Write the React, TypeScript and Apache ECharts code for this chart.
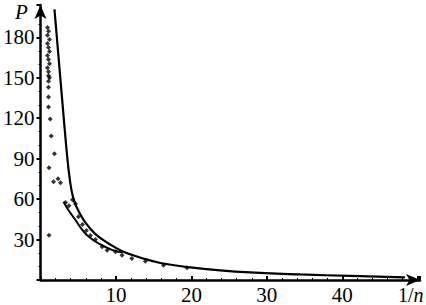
import React, { useEffect, useRef } from "react";
import * as echarts from "echarts";

// main fitted curve (1/n, P)
const curveX = [1.85, 2.38, 2.91, 3.44, 3.77, 4.11, 4.5, 5.03, 5.96, 7.28, 9.01, 10.9, 13.6, 15.9, 19.9, 23.8, 27.8, 34.4, 41.1, 48.3];
const curveP = [200.7, 166.1, 131.3, 97.3, 79.5, 66.5, 58.0, 51.4, 42.5, 34.0, 27.1, 21.2, 16.0, 12.6, 9.3, 7.1, 5.6, 4.1, 3.0, 1.9];

// lower secondary line
const lowerX = [3.05, 3.71, 4.64, 5.56, 6.36, 7.68, 9.54, 10.86];
const lowerP = [58.1, 51.8, 44.4, 37.0, 32.2, 27.1, 22.2, 20.4];

// measured points
const dotX = [0.93, 1.06, 0.93, 1.19, 0.93, 1.06, 1.19, 0.93, 1.06, 1.19, 0.93, 1.06, 1.06, 1.19,
  1.06, 1.06, 1.06, 1.06, 1.28, 1.42, 1.85, 1.13, 1.72, 2.32, 2.65, 3.31, 3.77, 4.24, 4.64, 1.13,
  5.03, 5.56, 6.09, 6.62, 7.28, 8.17, 8.83, 9.93, 10.8, 12.1, 13.9, 16.3, 19.4];
const dotP = [187.4, 184.5, 181.5, 178.5, 175.5, 172.5, 169.5, 166.5, 163.5, 160.5, 157.5, 154.5, 151.5, 150.0,
  147.5, 143.0, 135.7, 128.3, 119.4, 106.9, 93.6, 83.2, 72.8, 75.1, 72.1, 57.4, 55.1, 59.6, 56.6, 33.2,
  47.0, 41.1, 36.7, 33.0, 30.0, 24.6, 22.1, 20.9, 18.4, 16.0, 14.0, 11.0, 9.1];

const xTicks = [10, 20, 30, 40];
const yTicks = [30, 60, 90, 120, 150, 180];

const FONT = "Liberation Serif";

export default function App() {
  const ref = useRef<HTMLDivElement>(null);
  useEffect(() => {
    const chart = echarts.init(ref.current!, null, { renderer: "svg" });
    const axisLine = {
      show: true,
      symbol: ["none", "arrow"],
      symbolSize: [9, 14],
      lineStyle: { color: "#000", width: 2.5 },
    };
    chart.setOption({
      animation: false,
      backgroundColor: "#fff",
      grid: { left: 40, right: 6, top: 5, bottom: 23.4, containLabel: false },
      xAxis: {
        type: "value",
        min: 0,
        max: 50.3,
        interval: 10,
        axisLine,
        axisTick: { show: true, inside: true, length: 4, lineStyle: { color: "#000", width: 2 } },
        minorTick: { show: true, splitNumber: 5, length: 2, lineStyle: { color: "#000", width: 1 } },
        splitLine: { show: false },
        axisLabel: {
          color: "#000",
          fontFamily: FONT,
          fontSize: 21,
          margin: 4,
          formatter: (v: number) => (xTicks.includes(v) ? String(v) : ""),
        },
      },
      yAxis: {
        type: "value",
        min: 0,
        max: 204,
        interval: 30,
        axisLine,
        axisTick: { show: true, inside: false, length: 4, lineStyle: { color: "#000", width: 2 } },
        minorTick: { show: true, splitNumber: 3, length: 2, lineStyle: { color: "#000", width: 1 } },
        splitLine: { show: false },
        axisLabel: {
          color: "#000",
          fontFamily: FONT,
          fontSize: 21,
          margin: 6,
          formatter: (v: number) => (yTicks.includes(v) ? String(v) : ""),
        },
      },
      series: [
        {
          type: "line",
          data: curveX.map((x, i) => [x, curveP[i]]),
          smooth: 0.4,
          showSymbol: false,
          lineStyle: { color: "#000", width: 2.2 },
          z: 3,
        },
        {
          type: "line",
          data: lowerX.map((x, i) => [x, lowerP[i]]),
          smooth: 0.3,
          showSymbol: false,
          lineStyle: { color: "#000", width: 2 },
          z: 3,
        },
        {
          type: "scatter",
          data: dotX.map((x, i) => [x, dotP[i]]),
          symbol: "diamond",
          symbolSize: 5,
          itemStyle: { color: "#000" },
          z: 4,
        },
      ],
      graphic: [
        {
          type: "text",
          left: 15,
          top: 1,
          style: { text: "P", font: `italic 21px ${FONT}`, fill: "#000" },
        },
        {
          type: "text",
          left: 398,
          top: 285,
          style: {
            text: "{a|1/}{b|n}",
            rich: {
              a: { fontFamily: FONT, fontSize: 20, fill: "#000", color: "#000" },
              b: { fontFamily: FONT, fontSize: 20, fontStyle: "italic", fill: "#000", color: "#000" },
            },
          },
        },
      ],
    });
    return () => chart.dispose();
  }, []);
  return (
    <div
      ref={ref}
      style={{ position: "fixed", left: 0, top: 0, width: 426, height: 305 }}
    />
  );
}
